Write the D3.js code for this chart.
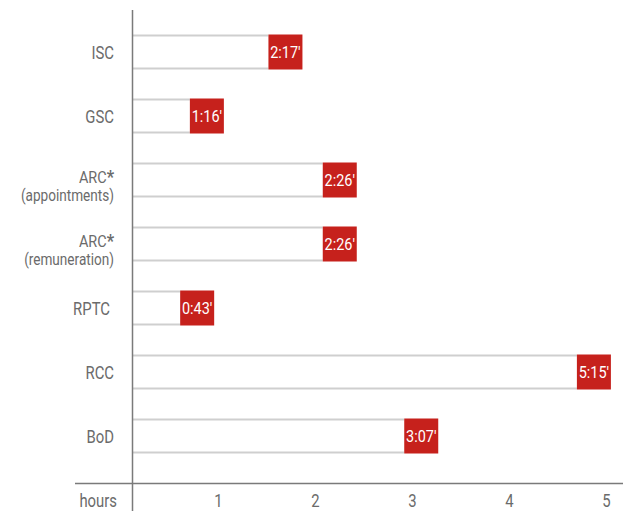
<!DOCTYPE html>
<html>
<head>
<meta charset="utf-8">
<script src="https://cdn.jsdelivr.net/npm/d3@7"></script>
<style>
  body { margin: 0; background: #fff; }
  svg text { font-family: Roboto, "Liberation Sans", sans-serif; }
</style>
</head>
<body>
<svg id="chart" width="623" height="511"></svg>
<script>
// committees, top to bottom
const committees = ['ISC', 'GSC', 'ARC-a', 'ARC-r', 'RPTC', 'RCC', 'BoD']
const labelLines = [['ISC'], ['GSC'], ['ARC*', '(appointments)'], ['ARC*', '(remuneration)'], ['RPTC'], ['RCC'], ['BoD']]
// average meeting length as printed
const durations = ["2:17'", "1:16'", "2:26'", "2:26'", "0:43'", "5:15'", "3:07'"]
// where each bar ends, in hours, as read against the axis
const barEnd = [1.52, 0.71, 2.08, 2.08, 0.61, 4.70, 2.92]
const hourTicks = [1, 2, 3, 4, 5]

const svg = d3.select('#chart')
const axisX = 132
const axisY = 483
const squeeze = 0.85  // condensed look

const x = d3.scaleLinear().domain([0, 5]).range([121, 606])
const y = d3.scaleBand()
    .domain(committees)
    .range([35, 453])
    .paddingInner(30 / 64)
    .paddingOuter(0)

const textGrey = '#6b6b6b'
const red = '#c6211c'
const boxW = 34

// condensed text helper
function label (parent, tx, ty, str, anchor, fill, size = 17) {
  let t = parent.append('text')
    .attr('transform', `translate(${tx},${ty}) scale(${squeeze},1)`)
    .attr('text-anchor', anchor)
    .attr('fill', fill)
    .attr('font-size', size)
  if (str.endsWith('*')) {
    t.append('tspan').text(str.slice(0, -1))
    t.append('tspan').attr('font-weight', 'bold').attr('font-size', size + 2).text('*')
  } else {
    t.text(str)
  }
  return t
}

// bars: top and bottom rule up to the red box
const bars = svg.append('g').attr('class', 'bars')
committees.forEach((c, i) => {
  let y0 = y(c)
  let xe = x(barEnd[i])
  let g = bars.append('g')
  g.append('line')
    .attr('x1', axisX).attr('x2', xe)
    .attr('y1', y0 + 0.5).attr('y2', y0 + 0.5)
    .attr('stroke', '#cfcfcf').attr('stroke-width', 2)
  g.append('line')
    .attr('x1', axisX).attr('x2', xe)
    .attr('y1', y0 + y.bandwidth() - 0.5).attr('y2', y0 + y.bandwidth() - 0.5)
    .attr('stroke', '#cfcfcf').attr('stroke-width', 2)
  g.append('rect')
    .attr('x', xe).attr('y', y0 - 0.5)
    .attr('width', boxW).attr('height', y.bandwidth() + 1)
    .attr('fill', red)
  label(g, xe + boxW / 2, y0 + y.bandwidth() / 2 + 6, durations[i], 'middle', '#fff')
})

// category labels
const labels = svg.append('g').attr('class', 'labels')
committees.forEach((c, i) => {
  let lines = labelLines[i]
  let cy = y(c) + y.bandwidth() / 2
  let right = c === 'RPTC' ? 110 : 114
  if (lines.length === 1) {
    label(labels, right, cy + 7, lines[0], 'end', textGrey, 17.5)
  } else {
    label(labels, right, cy + 3, lines[0], 'end', textGrey, 17)
    label(labels, right, cy + 21, lines[1], 'end', textGrey, 16)
  }
})

// axes
svg.append('line')
  .attr('x1', axisX + 0.5).attr('x2', axisX + 0.5)
  .attr('y1', 10).attr('y2', 511)
  .attr('stroke', '#7a7a7a').attr('stroke-width', 1.5)
svg.append('line')
  .attr('x1', 75).attr('x2', 623)
  .attr('y1', axisY + 0.5).attr('y2', axisY + 0.5)
  .attr('stroke', '#7a7a7a').attr('stroke-width', 1.5)

const xAxis = d3.axisBottom(x).tickValues(hourTicks).tickFormat(d3.format('d')).tickSize(0).tickPadding(0)
const gx = svg.append('g')
  .attr('transform', `translate(0, ${axisY})`)
  .call(xAxis)
gx.select('.domain').remove()
gx.selectAll('.tick text')
  .attr('y', 24).attr('dy', null)
  .attr('font-size', 17.5)
  .attr('font-family', null)
  .attr('fill', textGrey)
  .attr('transform', `scale(${squeeze},1)`)
  .attr('x', 0)

label(svg, 117, axisY + 24, 'hours', 'end', textGrey, 17.5)
</script>
</body>
</html>
